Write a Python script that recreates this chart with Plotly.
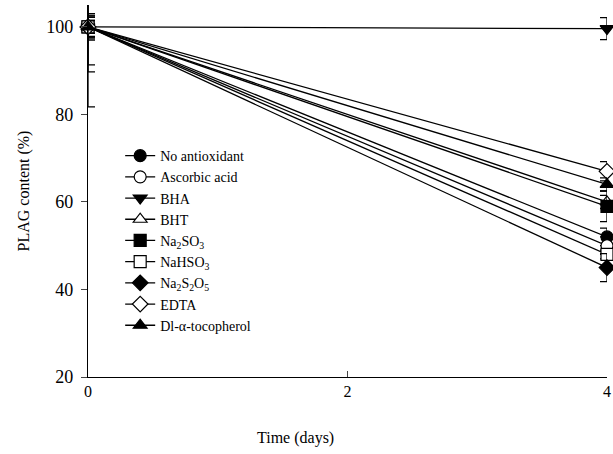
import plotly.graph_objects as go

days = [0, 4]
series_names = ["No antioxidant", "Ascorbic acid", "BHA", "BHT", "Na<sub>2</sub>SO<sub>3</sub>",
                "NaHSO<sub>3</sub>", "Na<sub>2</sub>S<sub>2</sub>O<sub>5</sub>", "EDTA", "Dl-α-tocopherol"]
values = [
    [100, 52],
    [100, 50],
    [100, 99.6],
    [100, 60],
    [100, 59],
    [100, 48],
    [100, 45],
    [100, 67],
    [100, 64],
]
errors = [
    [2.5, 2.0],
    [1.5, 2.0],
    [2.5, 2.5],
    [3.0, 1.5],
    [8.7, 3.5],
    [10.3, 1.0],
    [2.2, 3.2],
    [1.5, 2.2],
    [18.3, 1.5],
]
symbols = ["circle", "circle-open", "triangle-down", "triangle-up-open", "square",
           "square-open", "diamond", "diamond-open", "triangle-up"]

fig = go.Figure()
for name, vals, err, sym in zip(series_names, values, errors, symbols):
    open_ = sym.endswith("-open")
    fig.add_trace(go.Scatter(
        x=days, y=vals, name=name, mode="lines+markers",
        line=dict(color="black", width=1.3),
        marker=dict(symbol=sym.replace("-open", ""), size=12,
                    color="white" if open_ else "black",
                    line=dict(color="black", width=1.2)),
        error_y=dict(type="data", array=err, color="black", thickness=1.3, width=7),
        cliponaxis=False,
    ))

serif = "Liberation Serif, Times New Roman, serif"
fig.update_layout(
    width=613, height=454,
    margin=dict(l=88, r=6, t=5, b=77),
    paper_bgcolor="white", plot_bgcolor="white",
    font=dict(family=serif, size=16, color="black"),
    showlegend=True,
    legend=dict(x=0.062, y=0.637, xanchor="left", yanchor="top",
                bgcolor="rgba(0,0,0,0)", font=dict(size=14, family=serif, color="black"),
                tracegroupgap=0),
    annotations=[dict(text="Time (days)", xref="paper", yref="paper", x=0.40, y=-0.135,
                      xanchor="center", yanchor="top", showarrow=False,
                      font=dict(size=16, family=serif, color="black"))],
)
fig.update_xaxes(range=[0, 4], tickvals=[0, 2, 4], ticks="inside", ticklen=6,
                 showline=True, linecolor="black", linewidth=1.3, showgrid=False, zeroline=False,
                 automargin=False, tickfont=dict(size=16, color="black"))
fig.update_yaxes(range=[20, 105], tickvals=[20, 40, 60, 80, 100], ticks="outside", ticklen=6,
                 showline=True, linecolor="black", linewidth=1.3, showgrid=False, zeroline=False,
                 automargin=False, ticklabelstandoff=4,
                 title=dict(text="PLAG content (%)", standoff=12,
                            font=dict(size=16, family=serif, color="black")),
                 tickfont=dict(size=18, color="black"))
fig.write_html("out.html", config={"displayModeBar": False},
               post_script="document.body.style.margin='0';document.body.style.overflow='hidden';")
